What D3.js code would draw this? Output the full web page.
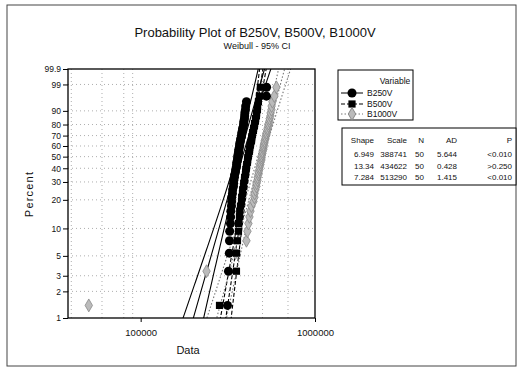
<!DOCTYPE html>
<html><head><meta charset="utf-8">
<script src="https://cdn.jsdelivr.net/npm/d3@7"></script>
<style>body{margin:0;background:#fff} text{font-family:"Liberation Sans",Arial,sans-serif;fill:#111}</style>
</head><body><svg id="c" width="519" height="369"></svg>
<script>
const seriesNames = ["B250V", "B500V", "B1000V"];
const b250v = [314800,323200,318900,322500,324100,327500,328200,329000,331800,332600,
  333400,336200,337000,340700,341500,342300,345200,346100,349800,350700,
  354400,355200,356100,359100,360000,361000,363900,364800,365700,368700,
  369600,370600,373600,374500,378600,379500,380500,383600,384600,388700,
  389700,390700,393900,394900,395900,399100,400100,404400,526400,527500];
const b500v = [283300,354400,355000,359100,363900,364700,368700,369800,373600,378600,
  379600,383600,384700,388700,389800,393900,394800,399100,400200,401000,
  404400,405500,409800,410600,411500,415200,416300,420700,421600,422500,
  426300,427200,432000,433000,433900,437700,438700,443500,444500,449400,
  450400,455400,456500,461400,462500,467500,468600,473700,480000,486400];
const b1000v = [50400,238700,349800,404400,409800,415200,420700,426300,432000,443500,
  449400,450600,455400,461400,462600,467500,468700,473700,474900,480000,
  481200,486400,487600,492800,494000,495200,499400,500600,506000,507200,
  508400,512700,514000,519500,520800,526400,527700,533400,534700,540500,
  541800,547700,549000,554900,556300,562300,563700,569800,585000,600600];
const shapes = [6.949, 13.34, 7.284];
const scales = [388741, 434622, 513290];
const nValues = [50, 50, 50];
const shapeLabels = ["6.949", "13.34", "7.284"];
const adLabels = ["5.644", "0.428", "1.415"];
const pLabels = ["<0.010", ">0.250", "<0.010"];
const yTicks = [1, 2, 3, 5, 10, 20, 30, 40, 50, 60, 70, 80, 90, 99, 99.9];
const yGrid = [2, 3, 5, 10, 20, 30, 40, 50, 60, 70, 80, 90, 99];
const xTicks = [100000, 1000000];
const xGrid = [40000, 60000, 80000, 90000, 500000, 700000];

const svg = d3.select("#c");
const L = 68, R = 315, T = 69, B = 318;
const wq = p => Math.log(-Math.log(1 - p / 100));
const x = d3.scaleLog().domain([38300, 1000000]).range([L, R]);
const y = d3.scaleLinear().domain([wq(1), wq(99.9)]).range([B, T]);

svg.append("rect").attr("x", 7).attr("y", 5).attr("width", 509).attr("height", 361)
  .attr("fill", "none").attr("stroke", "#444").attr("stroke-width", 1);

svg.append("text").attr("x", 255).attr("y", 36.5).attr("text-anchor", "middle")
  .attr("font-size", 13).text("Probability Plot of B250V, B500V, B1000V");
svg.append("text").attr("x", 257).attr("y", 48.5).attr("text-anchor", "middle")
  .attr("font-size", 9).text("Weibull - 95% CI");

const defs = svg.append("defs");
defs.append("clipPath").attr("id", "pc").append("rect")
  .attr("x", L).attr("y", T).attr("width", R - L).attr("height", B - T);

// grid
const g = svg.append("g");
g.selectAll(".hg").data(yGrid).join("line")
  .attr("x1", L).attr("x2", R).attr("y1", d => y(wq(d))).attr("y2", d => y(wq(d)))
  .attr("stroke", "#999").attr("stroke-width", 0.8).attr("stroke-dasharray", "1,3");
g.selectAll(".vg").data(xGrid).join("line")
  .attr("y1", T).attr("y2", B).attr("x1", d => x(d)).attr("x2", d => x(d))
  .attr("stroke", "#999").attr("stroke-width", 0.8).attr("stroke-dasharray", "1,3");

// fitted lines and CI
const styles = [
  {dash: null, color: "#000", sym: d3.symbolCircle, size: 64, fill: "#000"},
  {dash: "4,2", color: "#000", sym: d3.symbolSquare, size: 52, fill: "#000"},
  {dash: "1.5,2", color: "#777", sym: d3.symbolDiamond, size: 48, fill: "#bbb"}
];
const plot = svg.append("g").attr("clip-path", "url(#pc)");
const wGrid = d3.range(0, 81).map(k => wq(0.5) + (wq(99.95) - wq(0.5)) * k / 80);
const line = d3.line().x(d => x(d[0])).y(d => y(d[1]));
shapes.forEach((sh, s) => {
  const b = 1 / sh, sc = scales[s], n = nValues[s];
  [-1, 0, 1].forEach(k => {
    const pts = wGrid.map(w => {
      const v = b * b / n * (1.1087 + 2 * 0.2570 * w + 0.6079 * w * w);
      return [sc * Math.exp(w * b + k * 1.96 * Math.sqrt(v)), w];
    });
    plot.append("path").attr("d", line(pts)).attr("fill", "none")
      .attr("stroke", styles[s].color).attr("stroke-width", 1.1)
      .attr("stroke-dasharray", styles[s].dash);
  });
});

// points
const data = [b250v, b500v, b1000v];
[2, 1, 0].forEach(s => {
  const vals = data[s].slice().sort((a, b) => a - b);
  const n = vals.length;
  plot.selectAll(null).data(vals).join("path")
    .attr("d", d3.symbol().type(styles[s].sym).size(styles[s].size))
    .attr("transform", (d, i) => `translate(${x(d)},${y(Math.log(-Math.log(1 - (i + 0.7) / (n + 0.4))))})`)
    .attr("fill", styles[s].fill)
    .attr("stroke", s === 2 ? "#888" : "none").attr("stroke-width", 0.8);
});

// frame
svg.append("rect").attr("x", L).attr("y", T).attr("width", R - L).attr("height", B - T)
  .attr("fill", "none").attr("stroke", "#000").attr("stroke-width", 1.3);

// axes
const yAx = svg.append("g").attr("transform", `translate(${L},0)`)
  .call(d3.axisLeft(y).tickValues(yTicks.map(wq)).tickSize(5).tickPadding(2)
    .tickFormat((d, i) => yTicks[i]));
yAx.select(".domain").remove();
yAx.selectAll("text").attr("font-size", 8.5).attr("font-family", "Liberation Sans, Arial").attr("fill", "#111");
const xAx = svg.append("g").attr("transform", `translate(0,${B})`)
  .call(d3.axisBottom(x).tickValues(xTicks).tickSize(4).tickPadding(7).tickFormat(d3.format("d")));
xAx.select(".domain").remove();
xAx.selectAll("text").attr("font-size", 9.5).attr("font-family", "Liberation Sans, Arial").attr("fill", "#111");

svg.append("text").attr("x", 188).attr("y", 354).attr("text-anchor", "middle")
  .attr("font-size", 11).text("Data");
svg.append("text").attr("transform", "translate(33,194) rotate(-90)").attr("text-anchor", "middle")
  .attr("font-size", 11).attr("letter-spacing", 1.2).text("Percent");

// legend
const lg = svg.append("g");
lg.append("rect").attr("x", 338).attr("y", 70).attr("width", 75).attr("height", 50)
  .attr("fill", "#fff").attr("stroke", "#000").attr("stroke-width", 1);
lg.append("text").attr("x", 395).attr("y", 84).attr("text-anchor", "middle")
  .attr("font-size", 8.5).text("Variable");
const ly = [96, 107, 117];
seriesNames.forEach((nm, s) => {
  lg.append("line").attr("x1", 341).attr("x2", 363).attr("y1", ly[s] - 3).attr("y2", ly[s] - 3)
    .attr("stroke", styles[s].color).attr("stroke-width", 1).attr("stroke-dasharray", styles[s].dash);
  lg.append("path").attr("d", d3.symbol().type(styles[s].sym).size(styles[s].size)())
    .attr("transform", `translate(352,${ly[s] - 3})`).attr("fill", styles[s].fill)
    .attr("stroke", s === 2 ? "#888" : "none");
  lg.append("text").attr("x", 367).attr("y", ly[s]).attr("font-size", 8.5).text(nm);
});

// table
const tb = svg.append("g");
tb.append("rect").attr("x", 342).attr("y", 128).attr("width", 174).attr("height", 57)
  .attr("fill", "#fff").attr("stroke", "#000").attr("stroke-width", 1);
const cols = [374, 407, 424, 457, 512];
const headers = ["Shape", "Scale", "N", "AD", "P"];
headers.forEach((h, c) => tb.append("text").attr("x", cols[c]).attr("y", 143)
  .attr("text-anchor", "end").attr("font-size", 8).text(h));
const rowY = [157, 168.5, 180];
seriesNames.forEach((nm, s) => {
  const row = [shapeLabels[s], String(scales[s]), String(nValues[s]), adLabels[s], pLabels[s]];
  row.forEach((t, c) => tb.append("text").attr("x", cols[c]).attr("y", rowY[s])
    .attr("text-anchor", "end").attr("font-size", 8).text(t));
});
</script></body></html>
